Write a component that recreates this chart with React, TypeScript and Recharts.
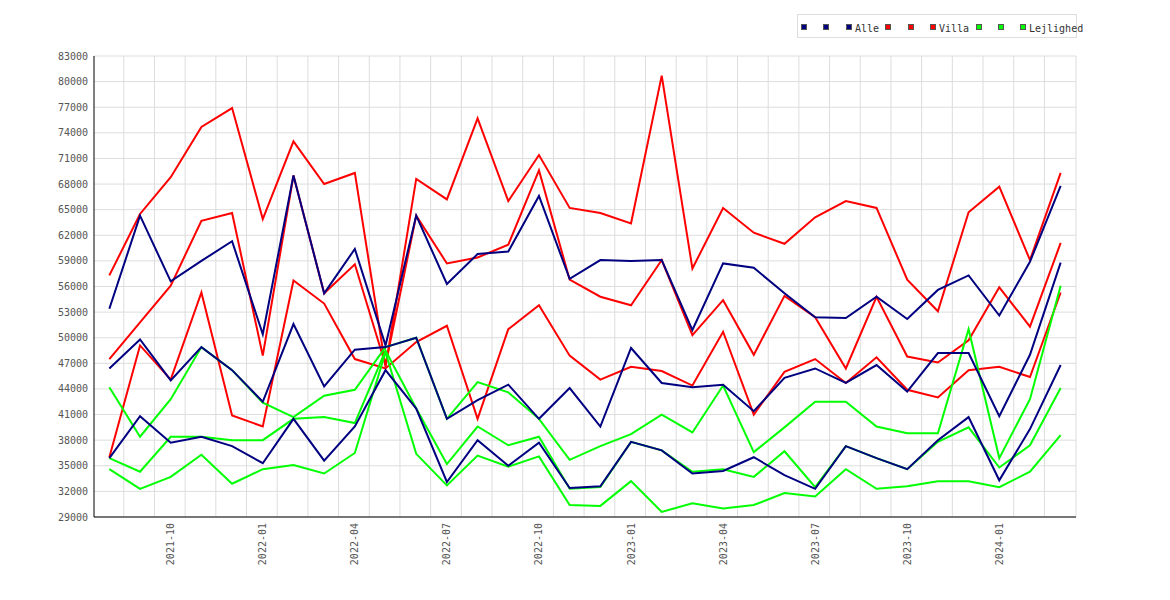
import React from "react";
import { LineChart, Line, XAxis, YAxis, CartesianGrid } from "recharts";

const months = [
  "2021-08", "2021-09", "2021-10", "2021-11", "2021-12",
  "2022-01", "2022-02", "2022-03", "2022-04", "2022-05", "2022-06", "2022-07", "2022-08", "2022-09", "2022-10", "2022-11", "2022-12",
  "2023-01", "2023-02", "2023-03", "2023-04", "2023-05", "2023-06", "2023-07", "2023-08", "2023-09", "2023-10", "2023-11", "2023-12",
  "2024-01", "2024-02", "2024-03",
];

const xTicks = [2, 5, 8, 11, 14, 17, 20, 23, 26, 29];
const yTicks = [29000, 32000, 35000, 38000, 41000, 44000, 47000, 50000, 53000, 56000, 59000, 62000, 65000, 68000, 71000, 74000, 77000, 80000, 83000];

// Alle (navy)
const alle1 = [53400, 64300, 56600, 59000, 61300, 50400, 69000, 55200, 60400, 49100, 64300, 56300, 59800, 60100, 66600, 56900, 59100, 59000, 59100, 50900, 58700, 58200, 55200, 52400, 52300, 54800, 52200, 55600, 57300, 52600, 58900, 67800];
const alle2 = [46400, 49800, 45000, 48900, 46200, 42500, 51600, 44300, 48600, 48900, 50000, 40500, 42700, 44500, 40500, 44100, 39600, 48800, 44700, 44200, 44500, 41400, 45300, 46400, 44700, 46800, 43700, 48200, 48200, 40800, 48000, 58800];
const alle3 = [35900, 40800, 37700, 38400, 37300, 35300, 40500, 35600, 39600, 46200, 41700, 33100, 38000, 35000, 37700, 32400, 32600, 37800, 36800, 34100, 34400, 36000, 33900, 32300, 37300, 35900, 34600, 38000, 40700, 33300, 39300, 46800];

// Villa (red)
const villa1 = [57300, 64500, 68800, 74700, 76900, 63900, 73000, 68000, 69300, 46600, 68600, 66200, 75700, 66000, 71400, 65200, 64600, 63400, 80700, 58100, 65200, 62300, 61000, 64100, 66000, 65200, 56800, 53100, 64700, 67700, 59100, 69300];
const villa2 = [47500, 51800, 56100, 63700, 64600, 47900, 69000, 55200, 58600, 46800, 64300, 58700, 59400, 60900, 69600, 56800, 54800, 53800, 59100, 50300, 54400, 48000, 54900, 52400, 46400, 54800, 47800, 47100, 49700, 55900, 51300, 61100];
const villa3 = [36000, 49100, 45100, 55300, 40900, 39600, 56700, 54000, 47500, 46400, 49500, 51400, 40500, 51000, 53800, 47900, 45100, 46600, 46100, 44400, 50700, 41000, 46000, 47500, 44700, 47700, 43900, 43000, 46200, 46600, 45400, 55300];

// Lejlighed (green)
const lejl1 = [44200, 38400, 42800, 48900, 46200, 42400, 40700, 43200, 43900, 48900, 50000, 40500, 44800, 43600, 40500, 35700, 37300, 38700, 41000, 38900, 44400, 36600, 39500, 42500, 42500, 39600, 38800, 38800, 51000, 35900, 42800, 56100];
const lejl2 = [35900, 34300, 38400, 38400, 38000, 38000, 40500, 40700, 40000, 48500, 41700, 35200, 39600, 37400, 38400, 32300, 32500, 37800, 36800, 34300, 34600, 33700, 36700, 32500, 37300, 35900, 34600, 37800, 39500, 34800, 37400, 44100];
const lejl3 = [34600, 32300, 33700, 36300, 32900, 34600, 35100, 34100, 36500, 48300, 36400, 32700, 36200, 34900, 36100, 30400, 30300, 33200, 29600, 30600, 30000, 30400, 31800, 31400, 34600, 32300, 32600, 33200, 33200, 32500, 34300, 38600];

const NAVY = "#000080";
const RED = "#ff0000";
const GREEN = "#00ff00";
const FONT = "'DejaVu Sans Mono', monospace";

const data = months.map((m, i) => ({
  i,
  month: m,
  a1: alle1[i], a2: alle2[i], a3: alle3[i],
  v1: villa1[i], v2: villa2[i], v3: villa3[i],
  l1: lejl1[i], l2: lejl2[i], l3: lejl3[i],
}));

// grid lines sit between the monthly points
const gridIdx = [...months.map((_, i) => i + 0.47).slice(0, 31), 31.5];

const series = [
  { key: "v1", color: RED }, { key: "v2", color: RED }, { key: "v3", color: RED },
  { key: "l1", color: GREEN }, { key: "l2", color: GREEN }, { key: "l3", color: GREEN },
  { key: "a1", color: NAVY }, { key: "a2", color: NAVY }, { key: "a3", color: NAVY },
];

const legendItems = [
  { color: NAVY, label: "", x: 801 }, { color: NAVY, label: "", x: 823 }, { color: NAVY, label: "Alle", x: 846 },
  { color: RED, label: "", x: 885 }, { color: RED, label: "", x: 908 }, { color: RED, label: "Villa", x: 930 },
  { color: GREEN, label: "", x: 976 }, { color: GREEN, label: "", x: 998 }, { color: GREEN, label: "Lejlighed", x: 1020 },
];

const XTick = (props: any) => {
  const { x, y, payload } = props;
  return (
    <text
      x={0}
      y={0}
      transform={`translate(${x},${y + 6}) rotate(-90)`}
      textAnchor="end"
      dy="0.35em"
      fontSize={10}
      fontFamily={FONT}
      fill="#555"
    >
      {months[payload.value]}
    </text>
  );
};

const vGen = (args: any) => {
  const { xAxis, offset } = args || {};
  if (xAxis && typeof xAxis.scale === "function") {
    return gridIdx.map((g) => xAxis.scale(g));
  }
  return gridIdx.map((g) => offset.left + ((g + 0.5) / 32) * offset.width);
};

export default function App() {
  return (
    <div style={{ position: "absolute", left: 0, top: 0, width: 1170, height: 600, background: "#fff" }}>
      <LineChart
        width={1170}
        height={600}
        data={data}
        margin={{ top: 56, right: 94, bottom: 33, left: 34 }}
      >
        <CartesianGrid stroke="#dddddd" verticalCoordinatesGenerator={vGen} />
        <XAxis
          dataKey="i"
          type="number"
          domain={[-0.5, 31.5]}
          ticks={xTicks}
          interval={0}
          height={50}
          tickLine={false}
          tickSize={0}
          tickMargin={0}
          axisLine={{ stroke: "#000" }}
          tick={<XTick />}
          allowDataOverflow
        />
        <YAxis
          type="number"
          domain={[29000, 83000]}
          ticks={yTicks}
          interval={0}
          width={60}
          tickLine={false}
          tickSize={0}
          tickMargin={6}
          axisLine={{ stroke: "#000" }}
          tick={{ fontSize: 10, fontFamily: FONT, fill: "#555" }}
          allowDataOverflow
        />
        {series.map((s) => (
          <Line
            key={s.key}
            dataKey={s.key}
            type="linear"
            stroke={s.color}
            strokeWidth={2}
            dot={false}
            activeDot={false}
            isAnimationActive={false}
          />
        ))}
      </LineChart>
      <svg
        width={1170}
        height={60}
        style={{ position: "absolute", left: 0, top: 0, pointerEvents: "none" }}
      >
        <rect x={797.5} y={14.5} width={279} height={23} fill="#fff" stroke="#dddddd" />
        {legendItems.map((it, k) => (
          <g key={k}>
            <rect x={it.x + 0.5} y={24.5} width={5} height={5} fill={it.color} stroke="#555" />
            {it.label ? (
              <text x={it.x + 9} y={31.5} fontSize={10} fontFamily={FONT} fill="#333">
                {it.label}
              </text>
            ) : null}
          </g>
        ))}
      </svg>
    </div>
  );
}
